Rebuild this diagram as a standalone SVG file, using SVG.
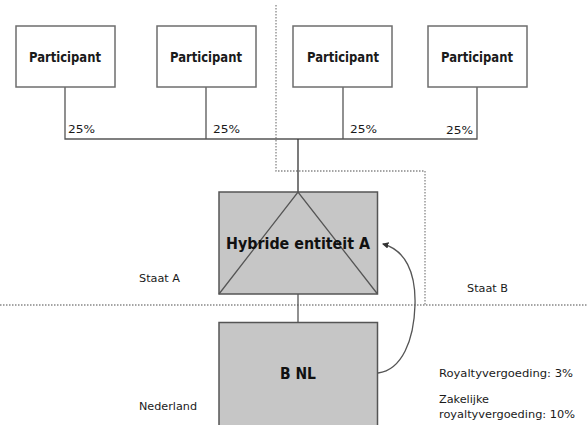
<svg xmlns="http://www.w3.org/2000/svg" width="587" height="425" viewBox="0 0 587 425">
<defs>
<style>
.box{fill:#fff;stroke:#6e6e6e;stroke-width:1.5}
.ent{fill:#c6c6c6;stroke:#555;stroke-width:1.5}
.ln{fill:none;stroke:#555;stroke-width:1.3}
.dot{fill:none;stroke:#888;stroke-width:1.3;stroke-dasharray:1.5 1.5}
.t{font-family:"DejaVu Sans Condensed","DejaVu Sans",sans-serif;fill:#1a1a1a}
.b{font-weight:bold}
</style>
<marker id="ah" viewBox="0 0 6 6" refX="5" refY="3" markerWidth="5" markerHeight="5" orient="auto">
<path d="M0,0 L6,3 L0,6 z" fill="#333"/>
</marker>
</defs>
<rect width="587" height="425" fill="#fff"/>
<g id="borders">
<polyline class="dot" points="276,5 276,171 425,171 425,305"/>
<line class="dot" x1="0" y1="305" x2="587" y2="305"/>
</g>
<g id="connectors">
<polyline class="ln" points="65,87 65,139 477,139 477,87"/>
<line class="ln" x1="206" y1="87" x2="206" y2="139"/>
<line class="ln" x1="343" y1="87" x2="343" y2="139"/>
<line class="ln" x1="298" y1="139" x2="298" y2="192" style="stroke:#333"/>
<line class="ln" x1="298" y1="294" x2="298" y2="322"/>
<path class="ln" d="M378,373 C402,370 414,340 415,305 C416,272 405,250 383,244" marker-end="url(#ah)"/>
</g>
<g id="p1"><rect class="box" x="16" y="26" width="99" height="61"/><text class="t b" x="65" y="61.5" text-anchor="middle" font-size="13.5" textLength="72" lengthAdjust="spacingAndGlyphs">Participant</text></g>
<g id="p2"><rect class="box" x="157" y="26" width="99" height="61"/><text class="t b" x="206" y="61.5" text-anchor="middle" font-size="13.5" textLength="72" lengthAdjust="spacingAndGlyphs">Participant</text></g>
<g id="p3"><rect class="box" x="293" y="26" width="99" height="61"/><text class="t b" x="343" y="61.5" text-anchor="middle" font-size="13.5" textLength="72" lengthAdjust="spacingAndGlyphs">Participant</text></g>
<g id="p4"><rect class="box" x="428" y="26" width="99" height="61"/><text class="t b" x="477" y="61.5" text-anchor="middle" font-size="13.5" textLength="72" lengthAdjust="spacingAndGlyphs">Participant</text></g>
<g id="pct">
<text class="t" x="68" y="133" font-size="11" textLength="27" lengthAdjust="spacingAndGlyphs">25%</text>
<text class="t" x="213" y="133" font-size="11" textLength="27" lengthAdjust="spacingAndGlyphs">25%</text>
<text class="t" x="350" y="133" font-size="11" textLength="27" lengthAdjust="spacingAndGlyphs">25%</text>
<text class="t" x="446" y="134" font-size="11" textLength="27" lengthAdjust="spacingAndGlyphs">25%</text>
</g>
<g id="hybride">
<rect class="ent" x="219" y="192" width="158.5" height="102"/>
<polyline class="ln" points="219,294 298,192 377.5,294" style="stroke:#555"/>
<text class="t b" x="298" y="249" text-anchor="middle" font-size="16.5" textLength="144" lengthAdjust="spacingAndGlyphs" style="fill:#111">Hybride entiteit A</text>
</g>
<g id="bnl">
<rect class="ent" x="219" y="322.5" width="158.5" height="104"/>
<text class="t b" x="298" y="379" text-anchor="middle" font-size="16" textLength="36" lengthAdjust="spacingAndGlyphs" style="fill:#111">B NL</text>
</g>
<g id="labels">
<text class="t" x="139" y="282" font-size="11" textLength="41" lengthAdjust="spacingAndGlyphs">Staat A</text>
<text class="t" x="467" y="292" font-size="11" textLength="41" lengthAdjust="spacingAndGlyphs">Staat B</text>
<text class="t" x="139" y="410" font-size="11" textLength="58" lengthAdjust="spacingAndGlyphs">Nederland</text>
<text class="t" x="439" y="377" font-size="11" textLength="134" lengthAdjust="spacingAndGlyphs">Royaltyvergoeding: 3%</text>
<text class="t" x="439" y="403" font-size="11" textLength="50" lengthAdjust="spacingAndGlyphs">Zakelijke</text>
<text class="t" x="439" y="418" font-size="11" textLength="136" lengthAdjust="spacingAndGlyphs">royaltyvergoeding: 10%</text>
</g>
</svg>
